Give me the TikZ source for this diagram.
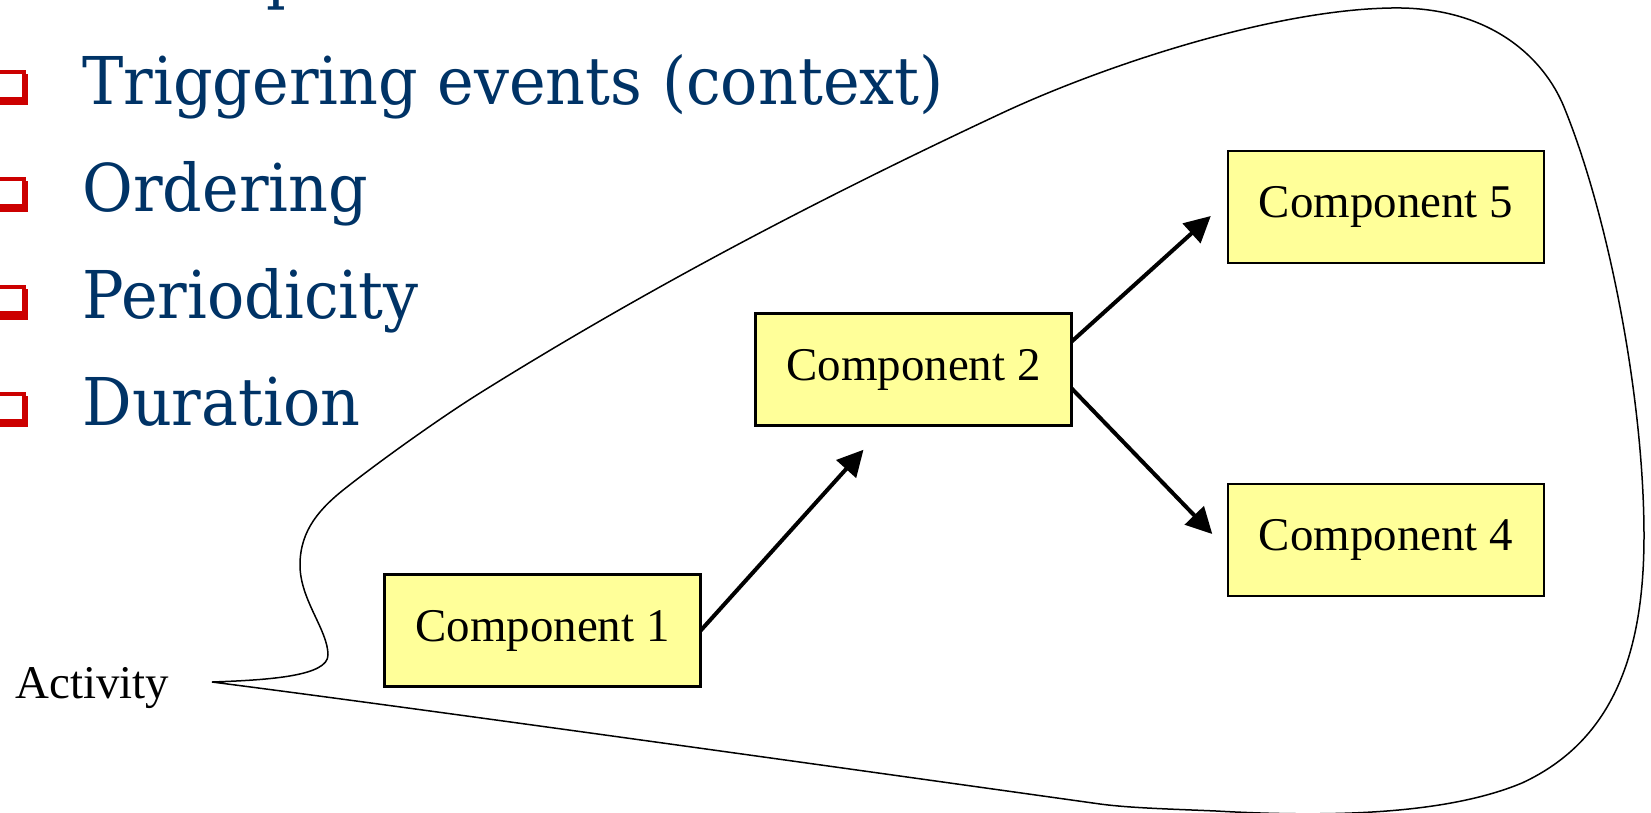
\documentclass[tikz,border=0pt]{standalone}
\usepackage{fontspec}
\usepackage{graphicx}
\usetikzlibrary{arrows.meta,calc}
\setmainfont{Liberation Serif}
\newfontfamily\listfont{DejaVu Serif}
\definecolor{listblue}{HTML}{003366}
\definecolor{bulletred}{HTML}{CC0000}
\definecolor{boxyellow}{HTML}{FFFF99}

\tikzset{
  compbox/.style={draw=black, fill=boxyellow, line width=0.05cm,
    minimum width=6.33cm, minimum height=2.25cm, inner sep=0pt, outer sep=0pt,
    font=\fontsize{26.7pt}{30pt}\selectfont},
  flow/.style={line width=0.08cm, -{Triangle[length=0.52cm, width=0.52cm]}},
  listitem/.style={anchor=base west, inner sep=0pt, text=listblue,
    font=\listfont\fontsize{37.5pt}{40pt}\selectfont},
  outline/.style={line width=0.03cm, line join=round},
  plainlabel/.style={anchor=base west, inner sep=0pt,
    font=\fontsize{26.7pt}{30pt}\selectfont},
}

\begin{document}
\begin{tikzpicture}[x=0.02cm, y=-0.02cm]
  \useasboundingbox (0,0) rectangle (1651,812);
  \clip (0,0) rectangle (1651,812);

  % bullet list on the left
  \foreach \b in {104,211.3,318.6,425.9} {
    \fill[bulletred] (-8,\b-34) rectangle (25.7,\b-3.3);
    \fill[bulletred] (-4,\b-30) rectangle (28.3,\b+1);
    \fill[white] (-4,\b-30) rectangle (21.7,\b-7.3);
  }
  \node[listitem] (head) at (266,-3.3) {\scalebox{0.94}[1]{p}};
  \node[listitem] (trig) at (82,104) {\scalebox{0.94}[1]{Triggering events (context)}};
  \node[listitem] (ord) at (82,211.3) {\scalebox{0.94}[1]{Ordering}};
  \node[listitem] (per) at (82,318.6) {\scalebox{0.94}[1]{Periodicity}};
  \node[listitem] (dur) at (82,425.9) {\scalebox{0.94}[1]{Duration}};

  % activity outline, starting and ending at the pointed tip
  \draw[outline] (212,682)
    .. controls (270,680) and (328,676) .. (328,655)
    .. controls (328,630) and (300,600) .. (300,565)
    .. controls (300,530) and (320,508) .. (347,487)
    .. controls (380,461) and (440,418) .. (480,393)
    .. controls (653,285) and (827,195) .. (1000,114)
    .. controls (1100,67) and (1270,10) .. (1391,8)
    .. controls (1490,6) and (1544,58) .. (1564,107)
    .. controls (1609,217) and (1644,400) .. (1644,536)
    .. controls (1644,650) and (1615,740) .. (1522,783)
    .. controls (1450,813) and (1340,818) .. (1216,811)
    .. controls (1170,809) and (1130,808) .. (1100,804)
    .. controls (800,762) and (400,706) .. (212,682);
  \node[plainlabel] (act) at (15,698) {Activity};

  % components
  \node[compbox] (c1) at (542.5,630.5) {Component 1};
  \node[compbox] (c2) at (913.5,369.5) {Component 2};
  \node[compbox] (c5) at (1386,207) {Component 5};
  \node[compbox] (c4) at (1386,540) {Component 4};

  % flow between components
  \draw[flow] (c1.east) -- ($(c2.south)+(-50,24)$);
  \draw[flow] ($(c2.east)+(0,-28)$) -- ($(c5.west)+(-17,9)$);
  \draw[flow] ($(c2.east)+(0,19)$) -- ($(c4.west)+(-15.5,-6)$);
\end{tikzpicture}
\end{document}
